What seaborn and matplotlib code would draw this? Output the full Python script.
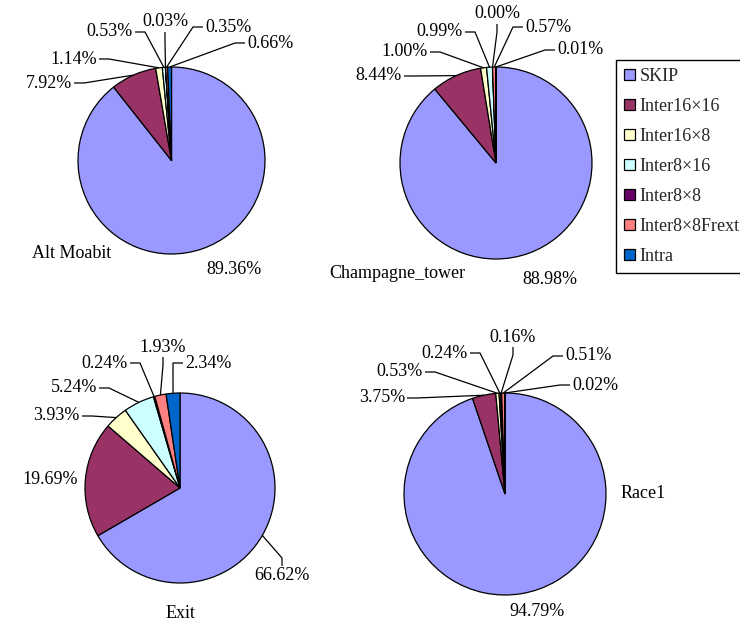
import numpy as np
import matplotlib
matplotlib.use("Agg")
import matplotlib.pyplot as plt
from matplotlib.patches import Patch
import seaborn as sns

# Macroblock mode distribution (%) for four multiview test sequences
modes = ["SKIP", "Inter16×16", "Inter16×8", "Inter8×16", "Inter8×8", "Inter8×8Frext", "Intra"]
alt_moabit = [89.36, 7.92, 1.14, 0.53, 0.03, 0.35, 0.66]
champagne_tower = [88.98, 8.44, 1.00, 0.99, 0.00, 0.57, 0.01]
exit_seq = [66.62, 19.69, 3.93, 5.24, 0.24, 1.93, 2.34]
race1 = [94.79, 3.75, 0.53, 0.24, 0.16, 0.51, 0.02]
sequences = ["Alt Moabit", "Champagne_tower", "Exit", "Race1"]
mode_colors = ["#9999FF", "#993366", "#FFFFCC", "#CCFFFF", "#660066", "#FF8080", "#0066CC"]

sns.set_theme(style="white")
plt.rcParams["font.family"] = ["Liberation Serif", "DejaVu Serif"]
palette = sns.color_palette(mode_colors)

W, H = 740, 628
FS = 13

# Layout in pixel units (y measured from the top): pie centre, radius,
# sequence-name position and one (x, y, ha, leader) entry per mode label.
layouts = [
    dict(center=(171.5, 160.5), r=93.5, title=(72, 254),
         labels=[(234, 270, "center", False), (72, 83, "right", True),
                 (97, 59, "right", True), (133, 32, "right", True),
                 (165, 22, "center", True), (205, 27, "left", True),
                 (247, 43, "left", True)]),
    dict(center=(496, 163), r=96, title=(397, 274),
         labels=[(550, 279, "center", False), (402, 76, "right", True),
                 (428, 52, "right", True), (463, 32, "right", True),
                 (497, 14, "center", True), (525, 27, "left", True),
                 (557, 50, "left", True)]),
    dict(center=(180, 488), r=95, title=(180, 614),
         labels=[(282, 576, "center", True), (78, 480, "right", False),
                 (80, 416, "right", True), (97, 388, "right", True),
                 (128, 363, "right", True), (163, 347, "center", True),
                 (185, 363, "left", True)]),
    dict(center=(505, 494), r=101, title=(643, 493),
         labels=[(537, 612, "center", False), (405, 398, "right", True),
                 (423, 372, "right", True), (468, 353, "right", True),
                 (513, 337, "center", True), (565, 356, "left", True),
                 (572, 385, "left", True)]),
]

fig = plt.figure(figsize=(W / 100, H / 100), dpi=100)
ax = fig.add_axes([0, 0, 1, 1])


def fy(y):
    return H - y


for name, values, lay in zip(sequences, [alt_moabit, champagne_tower, exit_seq, race1], layouts):
    cx, cy = lay["center"]
    r = lay["r"]
    ax.pie(values, colors=palette, startangle=90, counterclock=False,
           center=(cx, fy(cy)), radius=r, frame=True,
           wedgeprops=dict(edgecolor="black", linewidth=0.9))
    ax.text(lay["title"][0], fy(lay["title"][1]), name, ha="center", va="center",
            fontsize=FS, color="black")

    # mid-angle of every wedge, measured clockwise from 12 o'clock
    cum = np.cumsum([0] + list(values))
    total = cum[-1]
    for k, v in enumerate(values):
        tx, ty, ha, leader = lay["labels"][k]
        ax.text(tx, fy(ty), f"{v:.2f}%", ha=ha, va="center", fontsize=FS, color="black")
        if not leader:
            continue
        theta = np.deg2rad(90 - 360 * (cum[k] + v / 2) / total)
        axp = cx + r * np.cos(theta)
        ayp = cy - r * np.sin(theta)
        if ha == "right":
            pts = [(tx + 2, ty), (tx + 12, ty), (axp, ayp)]
        elif ha == "left":
            pts = [(tx - 2, ty), (tx - 12, ty), (axp, ayp)]
        else:
            if ayp > ty:
                pts = [(tx, ty + 10), (tx, ty + 18), (axp, ayp)]
            else:
                pts = [(tx, ty - 10), (tx, ty - 18), (axp, ayp)]
        xs = [p[0] for p in pts]
        ys = [fy(p[1]) for p in pts]
        ax.plot(xs, ys, color="black", linewidth=0.9, solid_capstyle="butt")

ax.set_xlim(0, W)
ax.set_ylim(0, H)
ax.axis("off")

handles = [Patch(facecolor=c, edgecolor="black", linewidth=0.9) for c in palette]
leg = fig.legend(handles, modes, loc="upper left",
                 bbox_to_anchor=(616 / W, 1 - 60 / H), bbox_transform=fig.transFigure,
                 frameon=True, fancybox=False, shadow=False, framealpha=1,
                 edgecolor="black", fontsize=FS, borderaxespad=0, borderpad=0.45,
                 handlelength=0.6, handleheight=0.6, handletextpad=0.25,
                 labelspacing=0.72)
leg.get_frame().set_linewidth(1.0)

fig.savefig("out.png", dpi=100)
